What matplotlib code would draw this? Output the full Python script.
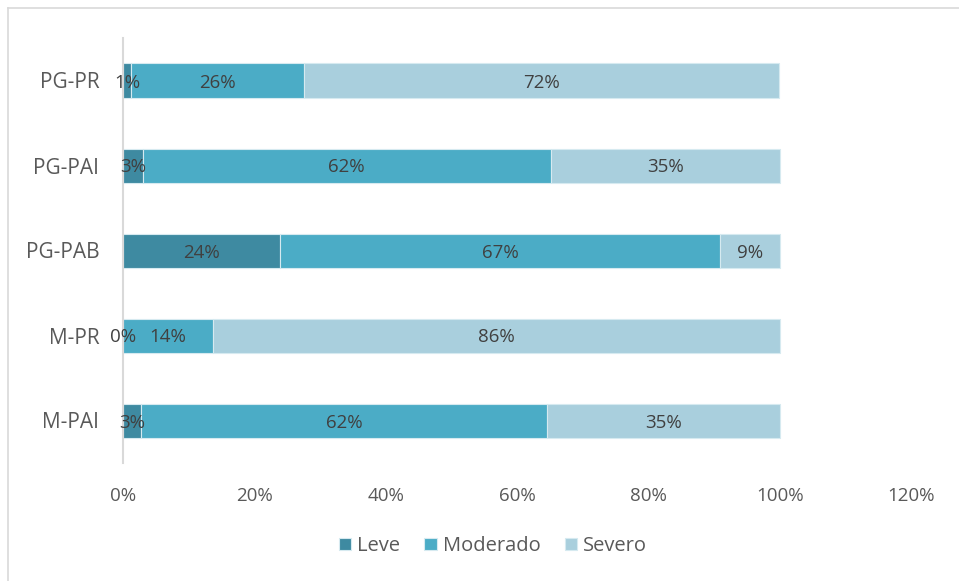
import matplotlib
matplotlib.use("Agg")
import matplotlib.pyplot as plt
from matplotlib.lines import Line2D
from matplotlib.ticker import PercentFormatter

plt.rcParams['font.family'] = ['Open Sans', 'DejaVu Sans']

categories = ["M-PAI", "M-PR", "PG-PAB", "PG-PAI", "PG-PR"]
series_names = ["Leve", "Moderado", "Severo"]
leve = [0.027, 0.000, 0.239, 0.030, 0.012]
moderado = [0.619, 0.137, 0.670, 0.621, 0.263]
severo = [0.354, 0.863, 0.091, 0.349, 0.724]
colors = ["#3E8AA1", "#4BACC6", "#A9CFDD"]
xticks = [0, 0.2, 0.4, 0.6, 0.8, 1.0, 1.2]

W, H = 959, 581
fig = plt.figure(figsize=(W / 100, H / 100), dpi=100)
ax = fig.add_axes([123 / W, 1 - 463 / H, (911.4 - 123) / W, (463 - 38) / H])

text_color = "#595959"
label_color = "#404040"
left = [0.0] * len(categories)
for name, vals, col in zip(series_names, [leve, moderado, severo], colors):
    bars = ax.barh(categories, vals, left=left, height=0.4, color=col,
                   edgecolor="#D6EAF0", linewidth=0.8, label=name)
    for b, v in zip(bars, vals):
        ax.text(b.get_x() + b.get_width() / 2, b.get_y() + b.get_height() / 2,
                f"{v:.0%}", ha="center", va="center_baseline", fontsize=13.5,
                color=label_color)
    left = [l + v for l, v in zip(left, vals)]

ax.set_xlim(0, 1.2)
ax.set_ylim(-0.5, 4.5)
ax.set_xticks(xticks)
ax.xaxis.set_major_formatter(PercentFormatter(1.0, decimals=0))
ax.tick_params(axis="both", length=0, labelcolor=text_color)
ax.tick_params(axis="x", pad=17, labelsize=13.5)
ax.tick_params(axis="y", pad=17, labelsize=15)
for s in ["top", "right", "bottom"]:
    ax.spines[s].set_visible(False)
ax.spines["left"].set_color("#D9D9D9")
ax.spines["left"].set_linewidth(1.5)

leg = fig.legend(loc="center", bbox_to_anchor=(0.514, 1 - 546 / H), ncol=3,
                 frameon=False, fontsize=14.5, handlelength=0.6, handleheight=0.6,
                 handletextpad=0.3, columnspacing=1.2)
for t in leg.get_texts():
    t.set_color(text_color)

# outer chart-area border
fig.add_artist(Line2D([8 / W, 8 / W], [0, 1 - 8 / H], transform=fig.transFigure,
                      color="#D9D9D9", linewidth=1.2))
fig.add_artist(Line2D([8 / W, 1], [1 - 8 / H, 1 - 8 / H], transform=fig.transFigure,
                      color="#D9D9D9", linewidth=1.2))

fig.savefig("out.png", dpi=100)
